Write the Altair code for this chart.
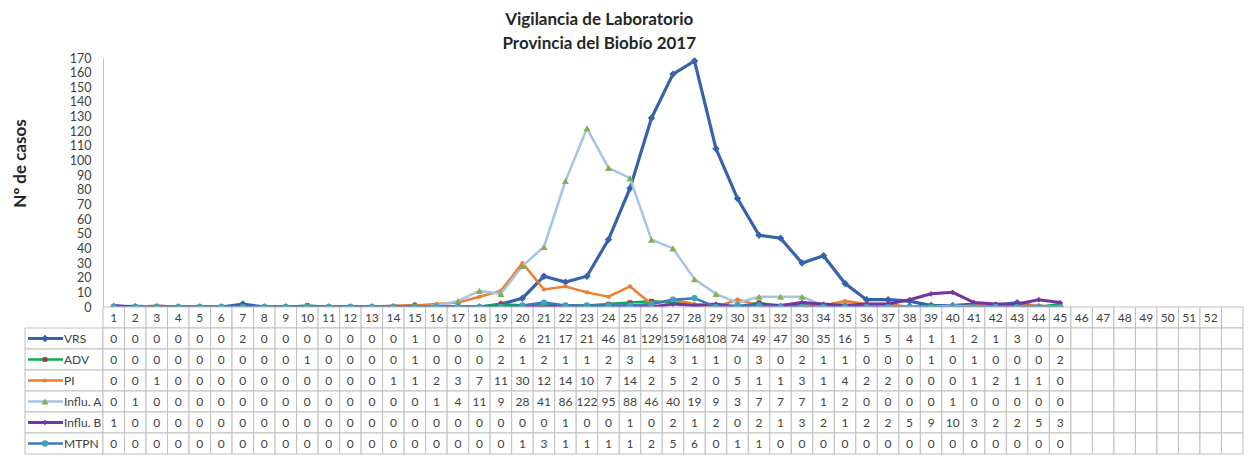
import altair as alt
import pandas as pd

# ---------------- data ----------------
weeks = list(range(1, 46))
table_cols = list(range(1, 54))            # 52 weeks + one empty column
header_labels = [str(i) for i in range(1, 53)] + [""]
series_names = ["VRS", "ADV", "PI", "Influ. A", "Influ. B", "MTPN"]

vrs = [0, 0, 0, 0, 0, 0, 2, 0, 0, 0, 0, 0, 0, 0, 1,
       0, 0, 0, 2, 6, 21, 17, 21, 46, 81, 129, 159, 168, 108, 74, 49, 47, 30, 35,
       16, 5, 5, 4, 1, 1, 2, 1, 3, 0, 0]
adv = [0, 0, 0, 0, 0, 0, 0, 0, 0, 1, 0, 0, 0, 0, 1,
       0, 0, 0, 2, 1, 2, 1, 1, 2, 3, 4, 3, 1, 1, 0, 3, 0, 2, 1,
       1, 0, 0, 0, 1, 0, 1, 0, 0, 0, 2]
pi = [0, 0, 1, 0, 0, 0, 0, 0, 0, 0, 0, 0, 0, 1, 1,
      2, 3, 7, 11, 30, 12, 14, 10, 7, 14, 2, 5, 2, 0, 5, 1, 1, 3, 1,
      4, 2, 2, 0, 0, 0, 1, 2, 1, 1, 0]
influ_a = [0, 1, 0, 0, 0, 0, 0, 0, 0, 0, 0, 0, 0, 0, 0,
           1, 4, 11, 9, 28, 41, 86, 122, 95, 88, 46, 40, 19, 9, 3, 7, 7, 7, 1,
           2, 0, 0, 0, 0, 1, 0, 0, 0, 0, 0]
influ_b = [1, 0, 0, 0, 0, 0, 0, 0, 0, 0, 0, 0, 0, 0, 0,
           0, 0, 0, 0, 0, 0, 1, 0, 0, 1, 0, 2, 1, 2, 0, 2, 1, 3, 2,
           1, 2, 2, 5, 9, 10, 3, 2, 2, 5, 3]
mtpn = [0, 0, 0, 0, 0, 0, 0, 0, 0, 0, 0, 0, 0, 0, 0,
        0, 0, 0, 0, 1, 3, 1, 1, 1, 1, 2, 5, 6, 0, 1, 1, 0, 0, 0,
        0, 0, 0, 0, 0, 0, 0, 0, 0, 0, 0]
y_ticks = list(range(0, 171, 10))

values = {"VRS": vrs, "ADV": adv, "PI": pi, "Influ. A": influ_a,
          "Influ. B": influ_b, "MTPN": mtpn}

# ---------------- styles ----------------
styles = {
    "VRS":      dict(line="#3562AA", mark="#3562AA", shape="diamond", size=55, sw=3.2),
    "ADV":      dict(line="#00B050", mark="#A23B3B", shape="square", size=22, sw=2.5),
    "PI":       dict(line="#ED7D31", mark="#ED7D31", shape="circle", size=18, sw=2.5),
    "Influ. A": dict(line="#A3C4E6", mark="#86B048", shape="triangle-up", size=50, sw=2.5),
    "Influ. B": dict(line="#7434A2", mark="#7434A2", shape="cross", size=22, sw=3),
    "MTPN":     dict(line="#3F77BC", mark="#3FA2BC", shape="circle", size=40, sw=2.5),
}

FONT = "Lato"
GRID = "#bfbfbf"
TXT = "#404040"
COLW = 1140
PLOTH = 249
LABW = 78
ROWH = 21
rows = ["hdr"] + series_names

# ---------------- line chart ----------------
xpoint = alt.Scale(domain=table_cols, type="point", padding=0.5)
yscale = alt.Scale(domain=[0, 170], nice=False)
yaxis = alt.Axis(values=y_ticks, title="Nº de casos", titleFont=FONT, titleFontSize=17,
                 titleFontWeight="bold", titleColor="#262626", titleAngle=-90,
                 titleX=-83, titleY=105, titleAlign="center", titleBaseline="middle",
                 labelFont=FONT, labelFontSize=12.5, labelColor=TXT, ticks=False,
                 labelPadding=12, domainColor=GRID, grid=False)

layers = []
for name in series_names:
    st = styles[name]
    d = pd.DataFrame({"week": weeks, "casos": values[name]})
    base = alt.Chart(d).encode(
        x=alt.X("week:O", scale=xpoint, axis=None),
        y=alt.Y("casos:Q", scale=yscale, axis=yaxis),
    )
    layers.append(base.mark_line(color=st["line"], strokeWidth=st["sw"]))
    layers.append(base.mark_point(shape=st["shape"], filled=True, size=st["size"],
                                  color=st["mark"], opacity=1))
lines = alt.layer(*layers).properties(width=COLW, height=PLOTH)

spacer = alt.Chart(pd.DataFrame({"a": [0]})).mark_point(opacity=0).encode(
    x=alt.value(0), y=alt.value(0)).properties(width=LABW, height=PLOTH)

# ---------------- data table ----------------
recs = []
for r in rows:
    for i, c in enumerate(table_cols):
        if r == "hdr":
            t = header_labels[i]
        else:
            t = str(values[r][i]) if c <= len(weeks) else ""
        recs.append({"row": r, "col": c, "txt": t})
cells = pd.DataFrame(recs)

xband = alt.Scale(domain=table_cols, type="band", paddingInner=0, paddingOuter=0)
yband = alt.Scale(domain=rows, type="band", paddingInner=0, paddingOuter=0)

cbase = alt.Chart(cells).encode(
    x=alt.X("col:O", scale=xband, axis=None),
    y=alt.Y("row:N", scale=yband, axis=None),
)
grid = alt.layer(
    cbase.mark_rect(fill="white", stroke=GRID, strokeWidth=1),
    cbase.mark_text(font=FONT, fontSize=12, color=TXT).encode(
        x=alt.X("col:O", scale=xband, axis=None, bandPosition=0.5),
        y=alt.Y("row:N", scale=yband, axis=None, bandPosition=0.5),
        text="txt:N"),
).properties(width=COLW, height=ROWH * len(rows))

lab_layers = []
lab_df = pd.DataFrame({"row": series_names})
lab_layers.append(alt.Chart(lab_df).mark_rect(fill="white", stroke=GRID, strokeWidth=1).encode(
    x=alt.value(0), x2=alt.value(LABW),
    y=alt.Y("row:N", scale=yband, axis=None)))
for name in series_names:
    st = styles[name]
    d = pd.DataFrame({"row": [name]})
    yb = alt.Y("row:N", scale=yband, axis=None, bandPosition=0.5)
    lab_layers.append(alt.Chart(d).mark_rule(color=st["line"], strokeWidth=st["sw"]).encode(
        x=alt.value(3), x2=alt.value(38), y=yb))
    lab_layers.append(alt.Chart(d).mark_point(shape=st["shape"], filled=True, size=st["size"],
                                              color=st["mark"], opacity=1).encode(
        x=alt.value(20), y=yb))
    lab_layers.append(alt.Chart(d).mark_text(font=FONT, fontSize=12, color=TXT, align="left").encode(
        x=alt.value(39), y=yb, text="row:N"))
labels = alt.layer(*lab_layers).properties(width=LABW, height=ROWH * len(rows))

chart = alt.concat(
    spacer, lines, labels, grid, columns=2, spacing=0, bounds="flush",
    title=alt.Title(["Vigilancia de Laboratorio", "Provincia del Biobío 2017"],
                    font=FONT, fontSize=17, fontWeight="bold", color="#262626",
                    anchor="middle", dx=-28, lineHeight=24, offset=-1),
).resolve_scale(x="independent", y="independent").properties(
    padding={"left": 2, "top": 3, "right": 2, "bottom": 0}
).configure_view(stroke=None)

chart.save("out.html", embed_options={"renderer": "svg", "actions": False})
